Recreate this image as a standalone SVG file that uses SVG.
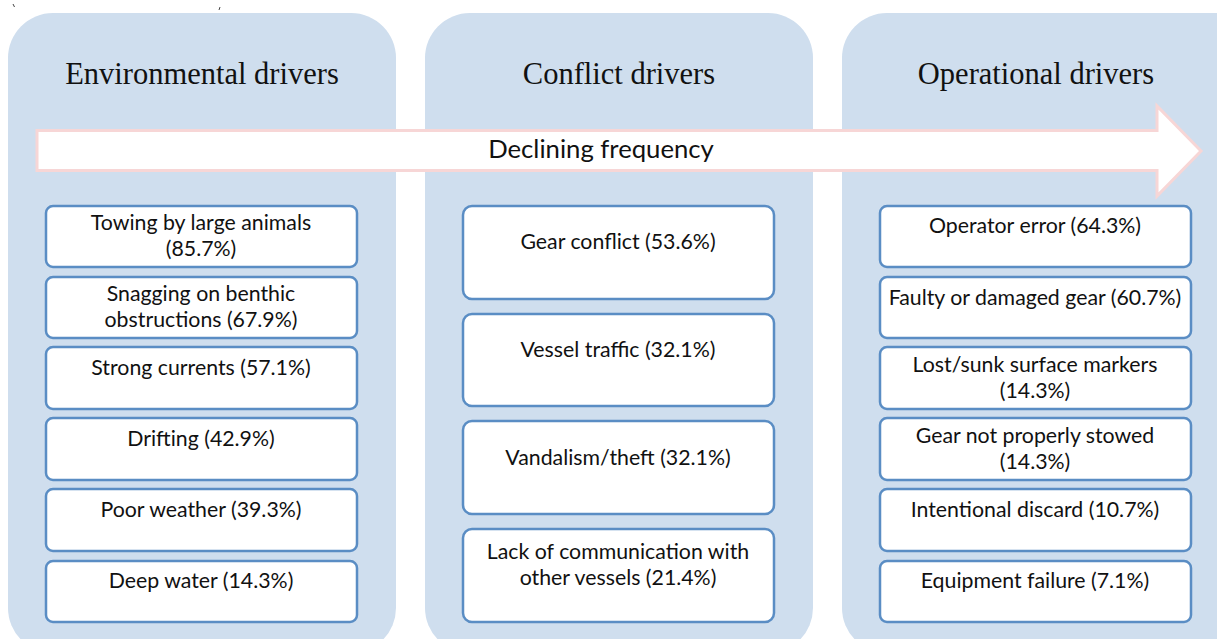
<svg xmlns="http://www.w3.org/2000/svg" width="1217" height="639" viewBox="0 0 1217 639">
<style>
.panel{fill:#CFDEEE}
.box{fill:#fff;stroke:#5A8DC4;stroke-width:2.5}
.hd{font-family:"Liberation Serif","Times New Roman",serif;font-size:30.5px;fill:#111;text-anchor:middle}
.t{font-family:Lato,"Open Sans",sans-serif;font-size:21.3px;fill:#111;text-anchor:middle}
.arrow{fill:#fff;stroke:#F7D6D6;stroke-width:3}
</style>
<rect width="1217" height="639" fill="#fff"/>
<path d="M13 4 l1.5 3" stroke="#444" stroke-width="1"/>
<path d="M220 7 l-1 3" stroke="#444" stroke-width="1"/>
<g id="panel-env"><rect class="panel" x="8" y="13" width="388" height="640" rx="45"/><text class="hd" x="202" y="84">Environmental drivers</text></g>
<g id="panel-con"><rect class="panel" x="425" y="13" width="388" height="640" rx="45"/><text class="hd" x="619" y="84">Conflict drivers</text></g>
<g id="panel-op"><rect class="panel" x="842" y="13" width="420" height="640" rx="45"/><text class="hd" x="1036" y="84">Operational drivers</text></g>
<g id="arrow"><path class="arrow" d="M37 130.5 H1157 V106 L1201 151 L1157 196 V170.5 H37 Z"/><text class="t" x="601" y="158" style="font-size:25.7px">Declining frequency</text></g>
<g id="env1"><rect class="box" x="46" y="206" width="311" height="61" rx="7"/><text class="t" x="201" y="230">Towing by large animals</text><text class="t" x="201" y="256">(85.7%)</text></g>
<g id="env2"><rect class="box" x="46" y="277" width="311" height="61" rx="7"/><text class="t" x="201" y="301">Snagging on benthic</text><text class="t" x="201" y="327">obstructions (67.9%)</text></g>
<g id="env3"><rect class="box" x="46" y="347" width="311" height="62" rx="7"/><text class="t" x="201" y="375">Strong currents (57.1%)</text></g>
<g id="env4"><rect class="box" x="46" y="418" width="311" height="62" rx="7"/><text class="t" x="201" y="446">Drifting (42.9%)</text></g>
<g id="env5"><rect class="box" x="46" y="489" width="311" height="62" rx="7"/><text class="t" x="201" y="517">Poor weather (39.3%)</text></g>
<g id="env6"><rect class="box" x="46" y="561" width="311" height="61" rx="7"/><text class="t" x="201" y="588">Deep water (14.3%)</text></g>
<g id="con1"><rect class="box" x="463" y="206" width="311" height="93" rx="9"/><text class="t" x="618" y="249">Gear conflict (53.6%)</text></g>
<g id="con2"><rect class="box" x="463" y="314" width="311" height="92" rx="9"/><text class="t" x="618" y="357">Vessel traffic (32.1%)</text></g>
<g id="con3"><rect class="box" x="463" y="421" width="311" height="93" rx="9"/><text class="t" x="618" y="465">Vandalism/theft (32.1%)</text></g>
<g id="con4"><rect class="box" x="463" y="529" width="311" height="93" rx="9"/><text class="t" x="618" y="559">Lack of communication with</text><text class="t" x="618" y="585">other vessels (21.4%)</text></g>
<g id="op1"><rect class="box" x="880" y="206" width="311" height="61" rx="7"/><text class="t" x="1035" y="233">Operator error (64.3%)</text></g>
<g id="op2"><rect class="box" x="880" y="277" width="311" height="61" rx="7"/><text class="t" x="1035" y="305">Faulty or damaged gear (60.7%)</text></g>
<g id="op3"><rect class="box" x="880" y="347" width="311" height="62" rx="7"/><text class="t" x="1035" y="372">Lost/sunk surface markers</text><text class="t" x="1035" y="398">(14.3%)</text></g>
<g id="op4"><rect class="box" x="880" y="418" width="311" height="62" rx="7"/><text class="t" x="1035" y="443">Gear not properly stowed</text><text class="t" x="1035" y="469">(14.3%)</text></g>
<g id="op5"><rect class="box" x="880" y="489" width="311" height="62" rx="7"/><text class="t" x="1035" y="517">Intentional discard (10.7%)</text></g>
<g id="op6"><rect class="box" x="880" y="561" width="311" height="61" rx="7"/><text class="t" x="1035" y="588">Equipment failure (7.1%)</text></g>
<g id="connectors"></g>
</svg>
